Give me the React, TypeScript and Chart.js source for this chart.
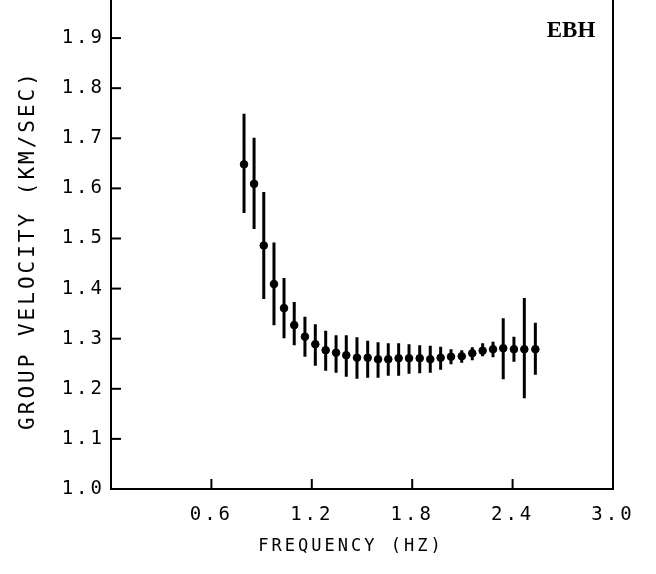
import React, { useEffect, useRef } from "react";
import { Chart, registerables } from "chart.js";

Chart.register(...registerables);

const frequency = [0.795, 0.855, 0.913, 0.974, 1.034, 1.095, 1.159, 1.221, 1.283, 1.345, 1.406, 1.470, 1.534, 1.596, 1.657, 1.719, 1.781, 1.845, 1.908, 1.970, 2.032, 2.096, 2.159, 2.221, 2.283, 2.344, 2.408, 2.470, 2.536];
const velocity = [1.648, 1.609, 1.486, 1.409, 1.361, 1.327, 1.304, 1.289, 1.277, 1.272, 1.267, 1.262, 1.262, 1.259, 1.259, 1.261, 1.261, 1.261, 1.259, 1.262, 1.264, 1.265, 1.271, 1.276, 1.279, 1.281, 1.279, 1.279, 1.279];
const velocityHigh = [1.749, 1.701, 1.593, 1.492, 1.421, 1.373, 1.344, 1.329, 1.316, 1.307, 1.307, 1.303, 1.296, 1.293, 1.291, 1.291, 1.289, 1.287, 1.286, 1.284, 1.279, 1.277, 1.283, 1.291, 1.294, 1.341, 1.304, 1.381, 1.332];
const velocityLow = [1.551, 1.519, 1.379, 1.327, 1.301, 1.287, 1.264, 1.246, 1.236, 1.232, 1.224, 1.220, 1.222, 1.222, 1.226, 1.226, 1.230, 1.231, 1.232, 1.238, 1.249, 1.252, 1.257, 1.265, 1.263, 1.219, 1.254, 1.181, 1.228];

const xTickValues = [0.6, 1.2, 1.8, 2.4, 3.0];
const xTickLabels = ["0.6", "1.2", "1.8", "2.4", "3.0"];
const yTickValues = [1.0, 1.1, 1.2, 1.3, 1.4, 1.5, 1.6, 1.7, 1.8, 1.9];
const yTickLabels = ["1.0", "1.1", "1.2", "1.3", "1.4", "1.5", "1.6", "1.7", "1.8", "1.9"];

const xTitle = "FREQUENCY (HZ)";
const yTitle = "GROUP VELOCITY (KM/SEC)";
const stationLabel = "EBH";

const MONO = "'DejaVu Sans Mono', monospace";

const decorPlugin = {
  id: "decor",
  beforeDraw(chart: any) {
    (chart.ctx as any).letterSpacing = "3px";
  },
  afterDraw(chart: any) {
    const ctx = chart.ctx as any;
    const area = chart.chartArea;
    const xs = chart.scales.x;
    const ys = chart.scales.y;
    ctx.save();
    ctx.strokeStyle = "#000";
    ctx.lineWidth = 2;
    // inward tick marks
    ys.ticks.forEach((t: any) => {
      if (t.value <= ys.min) return;
      const py = ys.getPixelForValue(t.value);
      ctx.beginPath();
      ctx.moveTo(area.left, py);
      ctx.lineTo(area.left + 10, py);
      ctx.stroke();
    });
    xs.ticks.forEach((t: any) => {
      if (t.value >= xs.max) return;
      const px = xs.getPixelForValue(t.value);
      ctx.beginPath();
      ctx.moveTo(px, area.bottom);
      ctx.lineTo(px, area.bottom - 10);
      ctx.stroke();
    });
    ctx.fillStyle = "#000";
    // x title
    ctx.letterSpacing = "3px";
    ctx.font = `17px ${MONO}`;
    ctx.textAlign = "center";
    ctx.textBaseline = "middle";
    ctx.fillText(xTitle, area.left + 240, area.bottom + 58);
    // y title
    ctx.save();
    ctx.translate(29, area.bottom - 239);
    ctx.rotate(-Math.PI / 2);
    ctx.font = `21px ${MONO}`;
    ctx.fillText(yTitle, 0, 0);
    ctx.restore();
    // station label
    ctx.letterSpacing = "0px";
    ctx.font = `bold 23px 'Liberation Serif', 'Times New Roman', serif`;
    ctx.fillText(stationLabel, area.right - 42, 31);
    ctx.restore();
    ctx.letterSpacing = "0px";
  },
};

export default function App() {
  const ref = useRef<HTMLCanvasElement | null>(null);

  useEffect(() => {
    if (!ref.current) return;
    const barData: any[] = [];
    frequency.forEach((f, i) => {
      barData.push({ x: f, y: velocityLow[i] });
      barData.push({ x: f, y: velocityHigh[i] });
      barData.push({ x: f, y: null });
    });
    const pointData = frequency.map((f, i) => ({ x: f, y: velocity[i] }));

    const chart = new Chart(ref.current, {
      type: "scatter",
      data: {
        datasets: [
          {
            label: "error",
            data: barData,
            showLine: true,
            spanGaps: false,
            borderColor: "#000",
            borderWidth: 3,
            pointRadius: 0,
            pointHoverRadius: 0,
          },
          {
            label: "group velocity",
            data: pointData,
            backgroundColor: "#000",
            borderColor: "#000",
            pointRadius: 3.8,
            pointStyle: "circle",
          },
        ],
      } as any,
      options: {
        responsive: false,
        animation: false,
        devicePixelRatio: 1,
        layout: { autoPadding: false, padding: { left: 0, right: 43, top: 0, bottom: 0 } },
        plugins: {
          legend: { display: false },
          tooltip: { enabled: false },
        },
        scales: {
          x: {
            type: "linear",
            position: "bottom",
            min: 0,
            max: 3.0,
            afterBuildTicks: (s: any) => {
              s.ticks = xTickValues.map((v) => ({ value: v }));
            },
            afterFit: (s: any) => {
              s.height = 85;
              s.paddingLeft = 0;
              s.paddingRight = 0;
            },
            grid: { display: false, drawTicks: false },
            border: { display: true, color: "#000", width: 2 },
            ticks: {
              color: "#000",
              font: { family: MONO, size: 19 },
              padding: 15,
              maxRotation: 0,
              autoSkip: false,
              callback: (v: any) => {
                const i = xTickValues.findIndex((t) => Math.abs(t - v) < 1e-9);
                return i >= 0 ? xTickLabels[i] : "";
              },
            },
          },
          y: {
            type: "linear",
            position: "left",
            min: 1.0,
            max: 1.976,
            afterBuildTicks: (s: any) => {
              s.ticks = yTickValues.map((v) => ({ value: v }));
            },
            afterFit: (s: any) => {
              s.width = 111;
              s.paddingTop = 0;
              s.paddingBottom = 0;
            },
            grid: { display: false, drawTicks: false },
            border: { display: true, color: "#000", width: 2 },
            ticks: {
              color: "#000",
              font: { family: MONO, size: 19 },
              padding: 6,
              autoSkip: false,
              callback: (v: any) => {
                const i = yTickValues.findIndex((t) => Math.abs(t - v) < 1e-9);
                return i >= 0 ? yTickLabels[i] : "";
              },
            },
          },
          yRight: {
            type: "linear",
            position: "right",
            min: 1.0,
            max: 1.976,
            afterFit: (s: any) => {
              s.width = 0;
              s.paddingTop = 0;
              s.paddingBottom = 0;
            },
            grid: { display: false, drawTicks: false },
            border: { display: true, color: "#000", width: 2 },
            ticks: { display: false },
          },
        },
      } as any,
      plugins: [decorPlugin],
    });
    return () => chart.destroy();
  }, []);

  return (
    <div style={{ position: "fixed", left: 0, top: 0, width: 656, height: 574, background: "#fff" }}>
      <canvas ref={ref} width={656} height={574} />
    </div>
  );
}
